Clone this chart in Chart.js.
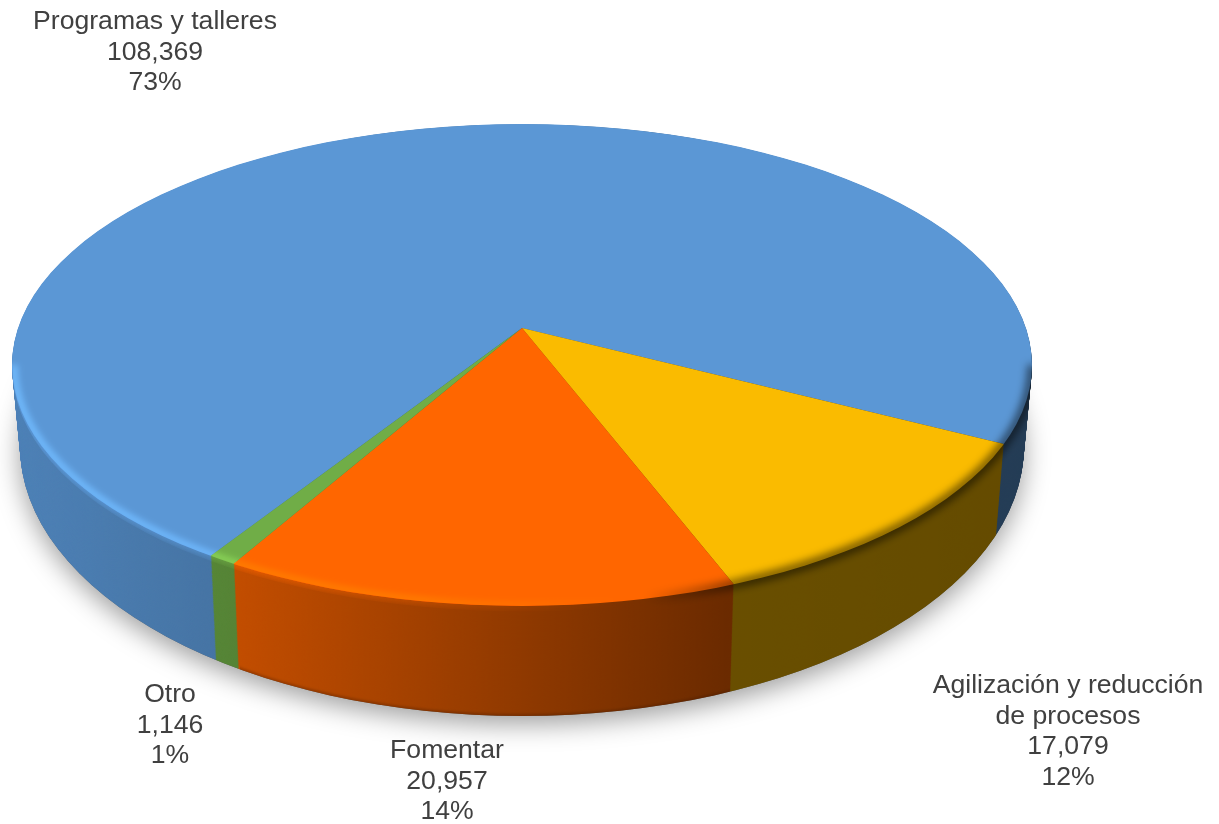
<!DOCTYPE html>
<html>
<head>
<meta charset="utf-8">
<style>
  html, body { margin: 0; padding: 0; background: #fff; }
  canvas { display: block; }
</style>
<script src="https://cdn.jsdelivr.net/npm/chart.js@4"></script>
</head>
<body>
<canvas id="grafica" width="1219" height="824"></canvas>
<script>
const categories = ['Programas y talleres', 'Agilización y reducción\nde procesos', 'Fomentar', 'Otro'];
const values = [108369, 17079, 20957, 1146];
const percents = ['73%', '12%', '14%', '1%'];
const colors = ['#5B97D5', '#FABB00', '#FF6600', '#70AD47'];

// geometria del disco en perspectiva: elipse superior e inferior
const rimX = 522;
const topRim = { y: 365, a: 510, b: 241 };
const lowRim = { y: 446, a: 502, b: 270 };
const apexOffset = -37 / 241;   // vertice respecto al centro de la elipse
const squash = 0.47, steps = 130;
const labelAnchors = [[155, 22], [1068, 686], [447, 751], [170, 695]];

function rimAt(t) {
    return {
        y: topRim.y + (lowRim.y - topRim.y) * t,
        a: topRim.a + (lowRim.a - topRim.a) * t,
        b: topRim.b + (lowRim.b - topRim.b) * t
    };
}

function ellipseAt(ctx, rim) {
    ctx.moveTo(rimX + rim.a, rim.y);
    ctx.ellipse(rimX, rim.y, rim.a, rim.b, 0, 0, Math.PI * 2);
}

// dibuja los arcos de Chart.js deformados y recortados a la elipse
function drawLayer(ctx, arcs, t) {
    const rim = rimAt(t);
    const scale = 700 / arcs[0].outerRadius;
    ctx.save();
    ctx.beginPath();
    ellipseAt(ctx, rim);
    ctx.clip();
    ctx.translate(rimX, rim.y + apexOffset * rim.b);
    ctx.scale(scale * rim.a / topRim.a, scale * squash * rim.b / topRim.b);
    ctx.translate(-arcs[0].x, -arcs[0].y);
    arcs.forEach(arc => arc.draw(ctx));
    ctx.restore();
}

const pie3d = {
    id: 'pie3d',
    beforeDatasetsDraw(chart) {
        const ctx = chart.ctx;
        const arcs = chart.getDatasetMeta(0).data;

        // pared lateral
        for (let s = steps; s >= 1; s--) drawLayer(ctx, arcs, s / steps);

        ctx.save();
        ctx.globalCompositeOperation = 'source-atop';
        const side = ctx.createLinearGradient(12, 0, 1032, 0);
        side.addColorStop(0, 'rgba(0,0,0,0.14)');
        side.addColorStop(0.22, 'rgba(0,0,0,0.24)');
        side.addColorStop(0.7, 'rgba(0,0,0,0.58)');
        side.addColorStop(1, 'rgba(0,0,0,0.6)');
        ctx.fillStyle = side;
        ctx.fillRect(0, 0, chart.width, chart.height);

        // borde inferior oscuro, solo en el tramo naranja
        ctx.save();
        ctx.beginPath();
        ctx.rect(240, 620, 490, 110);
        ctx.clip();
        ctx.filter = 'blur(1.5px)';
        ctx.strokeStyle = 'rgba(60,20,0,0.4)';
        ctx.lineWidth = 3;
        ctx.beginPath();
        ctx.ellipse(rimX, lowRim.y, lowRim.a, lowRim.b, 0, 0, Math.PI);
        ctx.stroke();
        ctx.restore();
        ctx.restore();

        // cara superior
        drawLayer(ctx, arcs, 0);

        // sombra difusa del bisel (derecha)
        ctx.save();
        ctx.filter = 'blur(4px)';
        ctx.globalCompositeOperation = 'source-atop';
        const dark = ctx.createLinearGradient(12, 0, 1032, 0);
        dark.addColorStop(0, 'rgba(0,0,0,0)');
        dark.addColorStop(0.62, 'rgba(0,0,0,0)');
        dark.addColorStop(0.72, 'rgba(0,0,0,0.6)');
        dark.addColorStop(1, 'rgba(0,0,0,0.6)');
        ctx.strokeStyle = dark;
        ctx.lineWidth = 8;
        ctx.beginPath();
        ctx.ellipse(rimX, topRim.y, topRim.a, topRim.b, 0, 0, Math.PI);
        ctx.stroke();
        ctx.restore();

        // brillo del bisel (izquierda y frente), recortado al disco
        ctx.save();
        ctx.beginPath();
        ellipseAt(ctx, topRim);
        ellipseAt(ctx, rimAt(0.05));
        ctx.clip();
        ctx.filter = 'blur(3px)';
        ctx.globalCompositeOperation = 'color-dodge';
        const glow = ctx.createLinearGradient(12, 0, 1032, 0);
        glow.addColorStop(0, 'rgb(50,50,50)');
        glow.addColorStop(0.4, 'rgb(45,45,45)');
        glow.addColorStop(0.6, 'rgb(0,0,0)');
        glow.addColorStop(1, 'rgb(0,0,0)');
        ctx.strokeStyle = glow;
        ctx.lineWidth = 7;
        ctx.beginPath();
        ctx.ellipse(rimX, topRim.y, topRim.a - 2, topRim.b - 1, 0, 0, Math.PI);
        ctx.stroke();
        ctx.restore();

        // sombra bajo el disco
        ctx.save();
        ctx.globalCompositeOperation = 'destination-over';
        ctx.shadowColor = 'rgba(0,0,0,0.38)';
        ctx.shadowBlur = 26;
        ctx.shadowOffsetY = 8;
        ctx.fillStyle = '#888';
        ctx.beginPath();
        ellipseAt(ctx, lowRim);
        ctx.fill();
        ctx.restore();

        return false;
    },
    afterDraw(chart) {
        const ctx = chart.ctx;
        ctx.save();
        ctx.fillStyle = '#404040';
        ctx.font = '26.6px "Liberation Sans", Arial, sans-serif';
        ctx.textAlign = 'center';
        ctx.textBaseline = 'middle';
        categories.forEach((name, i) => {
            const lines = name.split('\n').concat(values[i].toLocaleString('en-US'), percents[i]);
            lines.forEach((line, j) => {
                ctx.fillText(line, labelAnchors[i][0], labelAnchors[i][1] + j * 30.4);
            });
        });
        ctx.restore();
    }
};

new Chart(document.getElementById('grafica'), {
    type: 'pie',
    data: {
        labels: categories,
        datasets: [{
            data: values,
            backgroundColor: colors,
            borderWidth: 0
        }]
    },
    options: {
        responsive: false,
        animation: false,
        rotation: 212.7,
        events: [],
        plugins: {
            legend: { display: false },
            tooltip: { enabled: false }
        }
    },
    plugins: [pie3d]
});
</script>
</body>
</html>
